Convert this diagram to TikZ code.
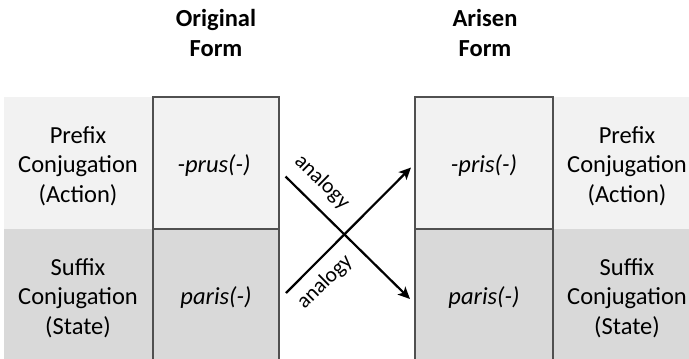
\documentclass[tikz,border=0pt]{standalone}
\usepackage{fontspec}
\setmainfont{Carlito}
\usetikzlibrary{arrows.meta}
\definecolor{lightcell}{HTML}{F2F2F2}
\definecolor{darkcell}{HTML}{D9D9D9}
\definecolor{cellline}{HTML}{505050}
\tikzset{
  lbl/.style={align=center, font=\fontsize{24.5}{29.5}\selectfont, inner sep=0pt},
  form/.style={font=\fontsize{24.5}{29.5}\selectfont\itshape, inner sep=0pt},
  title/.style={align=center, font=\fontsize{24.5}{30}\selectfont\bfseries, inner sep=0pt},
  anl/.style={font=\fontsize{21.5}{25}\selectfont, inner sep=0pt},
  boxline/.style={draw=cellline, line width=1.6pt},
  arr/.style={line width=2.2pt, -{Stealth[length=12pt,width=11pt,inset=3pt]}}
}
\begin{document}
\begin{tikzpicture}[x=1pt,y=-1pt]
\useasboundingbox (0,0) rectangle (689,359);
% backgrounds
\fill[lightcell] (4,97) rectangle (153,229);
\fill[darkcell] (4,229) rectangle (153,359);
\fill[lightcell] (153,97) rectangle (279,229);
\fill[darkcell] (153,229) rectangle (279,359);
\fill[lightcell] (415,97) rectangle (553,229);
\fill[darkcell] (415,229) rectangle (553,359);
\fill[lightcell] (553,97) rectangle (689,229);
\fill[darkcell] (553,229) rectangle (689,359);
% box borders
\draw[boxline] (153,359) -- (153,97) -- (279,97) -- (279,359);
\draw[boxline] (153,229) -- (279,229);
\draw[boxline] (415,359) -- (415,97) -- (553,97) -- (553,359);
\draw[boxline] (415,229) -- (553,229);
% titles
\node[title] (orig) at (216,33) {Original\\Form};
\node[title] (aris) at (485,33) {Arisen\\Form};
% side labels
\node[lbl] (lpre) at (78,166) {Prefix\\Conjugation\\(Action)};
\node[lbl] (lsuf) at (78,298) {Suffix\\Conjugation\\(State)};
\node[lbl] (rpre) at (627,166) {Prefix\\Conjugation\\(Action)};
\node[lbl] (rsuf) at (627,298) {Suffix\\Conjugation\\(State)};
% forms
\node[form] (prus) at (214,166) {-prus(-)};
\node[form] (paris1) at (216,298) {paris(-)};
\node[form] (pris) at (484,166) {-pris(-)};
\node[form] (paris2) at (484,298) {paris(-)};
% arrows
\coordinate (a1s) at (285.5,176.5);
\coordinate (a1e) at (410,299);
\coordinate (a2s) at (286,293);
\coordinate (a2e) at (411,167.5);
\draw[arr] (a1s) -- (a1e);
\draw[arr] (a2s) -- (a2e);
\node[anl, rotate=-44.5] (an1) at (322,182) {analogy};
\node[anl, rotate=44.5] (an2) at (325,282) {analogy};
\end{tikzpicture}
\end{document}
